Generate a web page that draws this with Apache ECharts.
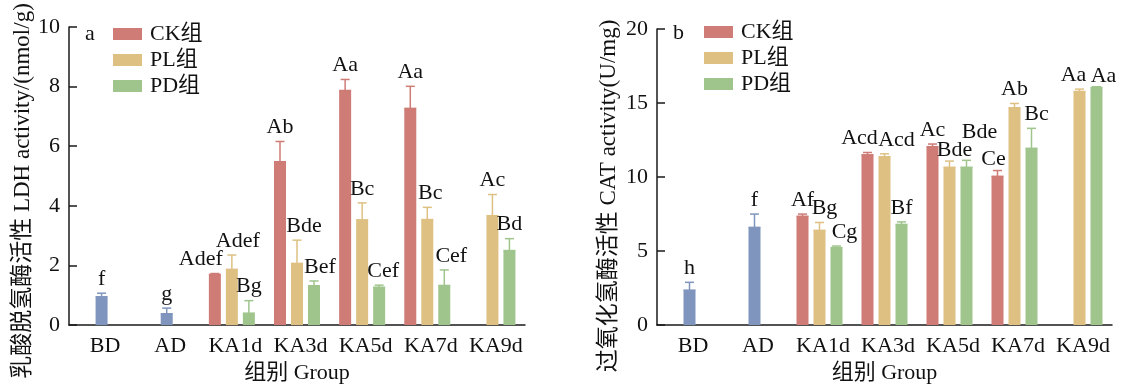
<!DOCTYPE html>
<html>
<head>
<meta charset="utf-8">
<script src="https://cdn.jsdelivr.net/npm/echarts@6/dist/echarts.min.js"></script>
<style>
  html, body { margin: 0; padding: 0; background: #fff; }
  #chart { width: 1123px; height: 389px; }
</style>
</head>
<body>
<div id="chart"></div>
<script>
// ---------------- data ----------------
const categories = ['BD', 'AD', 'KA1d', 'KA3d', 'KA5d', 'KA7d', 'KA9d'];
const seriesNames = ['CK组', 'PL组', 'PD组'];

// Panel a: LDH activity (nmol/g)
const ldhControl    = [0.95, 0.38, null, null, null, null, null];
const ldhControlErr = [0.12, 0.19, null, null, null, null, null];
const ldhControlLbl = ['f', 'g', '', '', '', '', ''];
const ldhCK     = [null, null, 1.70, 5.48, 7.87, 7.27, null];
const ldhCKErr  = [null, null, 0.03, 0.68, 0.37, 0.74, null];
const ldhCKLbl  = ['', '', 'Adef', 'Ab', 'Aa', 'Aa', ''];
const ldhPL     = [null, null, 1.87, 2.07, 3.53, 3.54, 3.67];
const ldhPLErr  = [null, null, 0.48, 0.78, 0.57, 0.41, 0.71];
const ldhPLLbl  = ['', '', 'Adef', 'Bde', 'Bc', 'Bc', 'Ac'];
const ldhPD     = [null, null, 0.40, 1.32, 1.27, 1.33, 2.50];
const ldhPDErr  = [null, null, 0.42, 0.16, 0.07, 0.52, 0.40];
const ldhPDLbl  = ['', '', 'Bg', 'Bef', 'Cef', 'Cef', 'Bd'];

// Panel b: CAT activity (U/mg)
const catControl    = [2.36, 6.60, null, null, null, null, null];
const catControlErr = [0.53, 0.90, null, null, null, null, null];
const catControlLbl = ['h', 'f', '', '', '', '', ''];
const catCK     = [null, null, 7.35, 11.50, 12.05, 10.05, null];
const catCKErr  = [null, null, 0.15, 0.16, 0.18, 0.39, null];
const catCKLbl  = ['', '', 'Af', 'Acd', 'Ac', 'Ce', ''];
const catPL     = [null, null, 6.40, 11.37, 10.66, 14.68, 15.78];
const catPLErr  = [null, null, 0.53, 0.20, 0.42, 0.29, 0.16];
const catPLLbl  = ['', '', 'Bg', 'Acd', 'Bde', 'Ab', 'Aa'];
const catPD     = [null, null, 5.23, 6.80, 10.66, 11.94, 16.05];
const catPDErr  = [null, null, 0.11, 0.17, 0.47, 1.35, 0.05];
const catPDLbl  = ['', '', 'Cg', 'Bf', 'Bde', 'Bc', 'Aa'];

const ldhTicks = [0, 2, 4, 6, 8, 10];
const catTicks = [0, 5, 10, 15, 20];

const ldhTitle = '乳酸脱氢酶活性 LDH activity/(nmol/g)';
const catTitle = '过氧化氢酶活性 CAT activity(U/mg)';
const xTitle = '组别 Group';

// ---------------- layout / style ----------------
const FONT = "'Liberation Serif','Noto Sans CJK SC',serif";
const FS = 22;
const COLORS = ['#cf7b76', '#dec083', '#9fc58d'];
const BLUE = '#7f95bd';
const BAR_W = 12, GAP_PX = 5;
const STEP = BAR_W + GAP_PX;

// label nudges [dx, dy] per slot (CK, PL, PD) per category
const nudgeA = {
  '0-2': [-14, 0], '1-2': [6, 0], '1-3': [7, 0], '2-3': [6, 0],
  '2-4': [4, 0], '1-5': [3, 0], '2-5': [7, 0]
};
const nudgeB = {
  '1-2': [5, 0], '2-2': [8, 0], '0-3': [-8, 0], '1-3': [12, 0],
  '1-4': [5, 3], '2-4': [13, -14], '0-5': [-4, 3], '2-5': [5, 0],
  '1-6': [-6, 0], '2-6': [7, 3]
};

function buildPanel(idx, control, controlErr, controlLbl, vals, errs, lbls, nudge) {
  const series = [];
  for (let s = 0; s < 3; s++) {
    const data = categories.map((c, i) => {
      if (s === 1 && control[i] != null) {
        return { value: control[i], itemStyle: { color: BLUE } };
      }
      return vals[s][i] == null ? '-' : vals[s][i];
    });
    series.push({
      type: 'bar', name: seriesNames[s], xAxisIndex: idx, yAxisIndex: idx,
      barWidth: BAR_W, barGap: (GAP_PX / BAR_W * 100) + '%',
      itemStyle: { color: COLORS[s] },
      data: data, silent: true, z: 2
    });
  }
  const items = [];
  categories.forEach((c, i) => {
    if (control[i] != null) {
      items.push({ cat: i, slot: 1, v: control[i], e: controlErr[i], l: controlLbl[i], color: BLUE, n: [0, 0] });
    }
    for (let s = 0; s < 3; s++) {
      if (vals[s][i] != null) {
        items.push({ cat: i, slot: s, v: vals[s][i], e: errs[s][i] || 0, l: lbls[s][i],
          color: COLORS[s], n: nudge[s + '-' + i] || [0, 0] });
      }
    }
  });
  series.push({
    type: 'custom', xAxisIndex: idx, yAxisIndex: idx, clip: false, silent: true, z: 5,
    data: items.map(it => [it.cat, it.v + it.e]),
    encode: { x: 0, y: 1 },
    renderItem: function (params, api) {
      const it = items[params.dataIndex];
      const x = api.coord([it.cat, 0])[0] + (it.slot - 1) * STEP;
      const yTop = api.coord([it.cat, it.v])[1];
      const yErr = api.coord([it.cat, it.v + it.e])[1];
      const children = [];
      if (it.e > 0) {
        children.push({ type: 'line', shape: { x1: x, y1: yTop, x2: x, y2: yErr },
          style: { stroke: it.color, lineWidth: 1.5 } });
        children.push({ type: 'line', shape: { x1: x - 4.5, y1: yErr, x2: x + 4.5, y2: yErr },
          style: { stroke: it.color, lineWidth: 1.5 } });
      }
      children.push({ type: 'line', shape: { x1: x - BAR_W / 2, y1: yTop, x2: x + BAR_W / 2, y2: yTop },
        style: { stroke: it.color, lineWidth: 1.5 } });
      if (it.l) {
        children.push({ type: 'text', style: {
          text: it.l, x: x + it.n[0], y: yErr - 3 + it.n[1],
          align: 'center', verticalAlign: 'bottom',
          fontSize: FS, fontFamily: FONT, fill: '#111'
        } });
      }
      return { type: 'group', children: children };
    }
  });
  return series;
}

const seriesA = buildPanel(0, ldhControl, ldhControlErr, ldhControlLbl,
  [ldhCK, ldhPL, ldhPD], [ldhCKErr, ldhPLErr, ldhPDErr], [ldhCKLbl, ldhPLLbl, ldhPDLbl], nudgeA);
const seriesB = buildPanel(1, catControl, catControlErr, catControlLbl,
  [catCK, catPL, catPD], [catCKErr, catPLErr, catPDErr], [catCKLbl, catPLLbl, catPDLbl], nudgeB);

const axisLineStyle = { color: '#1a1a1a', width: 1.5 };
const txt = { fontSize: FS, fontFamily: FONT, color: '#111' };

function xAxisCfg(gi) {
  return {
    type: 'category', gridIndex: gi, data: categories,
    axisLine: { lineStyle: axisLineStyle }, axisTick: { show: false },
    axisLabel: Object.assign({ margin: 10, interval: 0, padding: [0, 0, 0, 7] }, txt),
    name: xTitle, nameLocation: 'middle', nameGap: 34,
    nameTextStyle: txt
  };
}
function yAxisCfg(gi, ticks) {
  return {
    type: 'value', gridIndex: gi, min: ticks[0], max: ticks[ticks.length - 1],
    interval: ticks[1] - ticks[0],
    axisLine: { show: true, lineStyle: axisLineStyle },
    axisTick: { show: true, inside: true, length: 8, lineStyle: axisLineStyle },
    splitLine: { show: false },
    axisLabel: Object.assign({ margin: 9 }, txt)
  };
}

const legendCfg = (left, top) => ({
  orient: 'vertical', left: left, top: top, padding: 0, itemWidth: 29, itemHeight: 12,
  itemGap: 4, icon: 'rect', data: seriesNames, selectedMode: false,
  textStyle: { fontSize: FS, fontFamily: FONT, color: '#111', lineHeight: 22, padding: [0, 0, 0, 3] }
});

const yTitle = (text, x, y) => ({
  type: 'text', x: x, y: y, rotation: Math.PI / 2, silent: true,
  style: { text: text, align: 'center', verticalAlign: 'middle',
    fontSize: 23, fontFamily: FONT, fill: '#111' }
});

const option = {
  animation: false,
  backgroundColor: '#fff',
  grid: [
    { left: 69, top: 27, width: 456, height: 304 },
    { left: 657, top: 29, width: 455, height: 302 }
  ],
  xAxis: [xAxisCfg(0), xAxisCfg(1)],
  yAxis: [yAxisCfg(0, ldhTicks), yAxisCfg(1, catTicks)],
  legend: [legendCfg(113, 23), legendCfg(704, 21)],
  graphic: [
    { type: 'text', left: 85, top: 23, style: { text: 'a', fontSize: FS, fontFamily: FONT, fill: '#111' } },
    { type: 'text', left: 673, top: 22, style: { text: 'b', fontSize: FS, fontFamily: FONT, fill: '#111' } },
    yTitle(ldhTitle, 23, 191),
    yTitle(catTitle, 609, 196)
  ],
  series: seriesA.concat(seriesB)
};

const chart = echarts.init(document.getElementById('chart'), null, { renderer: 'canvas' });
chart.setOption(option);
</script>
</body>
</html>
